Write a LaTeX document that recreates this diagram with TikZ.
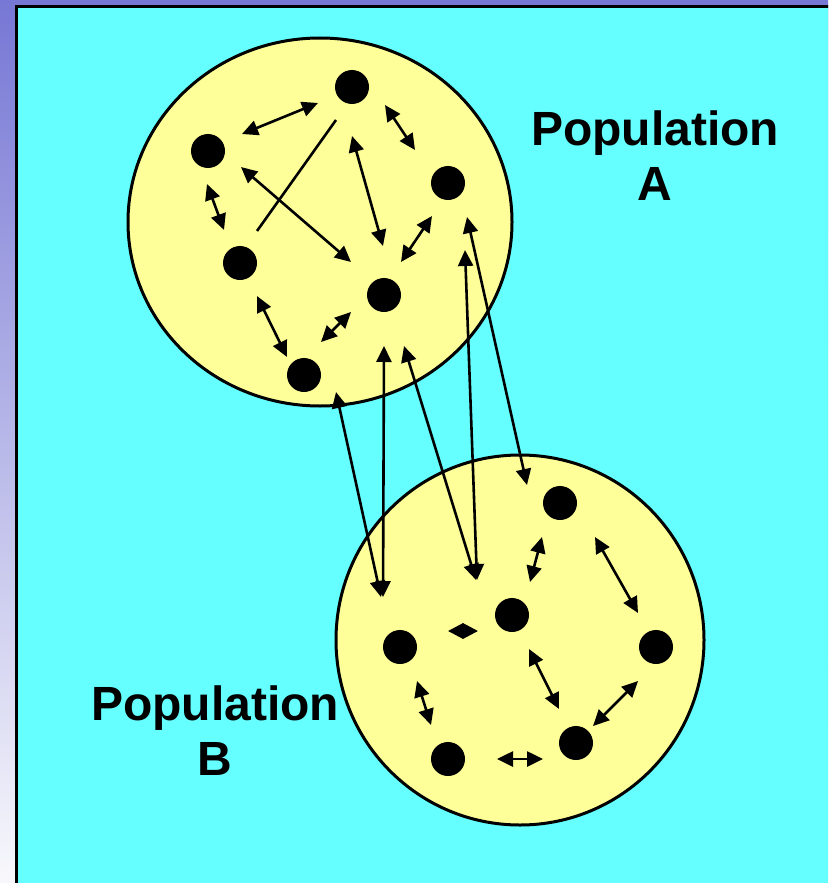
\documentclass[tikz,border=0pt]{standalone}
\usepackage{fontspec}
\setmainfont{Liberation Sans}
\usetikzlibrary{arrows.meta,shapes.geometric}
\definecolor{bgcyan}{RGB}{102,255,255}
\definecolor{popyellow}{RGB}{255,255,153}
\definecolor{topviolet}{RGB}{119,119,213}
\definecolor{botviolet}{RGB}{248,248,252}
\tikzset{
  dot/.style={circle,fill=black,inner sep=0pt,minimum size=34pt},
  popcircle/.style={fill=popyellow,draw=black,line width=3pt},
  tipshape/.tip={Triangle[length=16pt,width=15pt]},
  link/.style={line width=2.6pt,tipshape-tipshape},
  plainlink/.style={line width=2.6pt},
  poplabel/.style={font=\bfseries\fontsize{48}{55}\selectfont,inner sep=0pt,anchor=base}
}
\begin{document}
\begin{tikzpicture}[x=1pt,y=-1pt]
\useasboundingbox (0,0) rectangle (828,883);
\clip (0,0) rectangle (828,883);
\shade[top color=topviolet,bottom color=botviolet] (0,0) rectangle (828,883);
\draw[fill=bgcyan,line width=3pt] (16,6.5) rectangle (850,900);
% population circles
\draw[popcircle] (320,222) ellipse [x radius=192,y radius=184];
\draw[popcircle] (520,640) ellipse [x radius=184,y radius=185];
% population A dots
\node[dot] (aT) at (352,87) {};
\node[dot] (aL) at (208,151) {};
\node[dot] (aR) at (448,183) {};
\node[dot] (aM) at (240,263) {};
\node[dot] (aC) at (384,295) {};
\node[dot] (aB) at (304,375) {};
% population B dots
\node[dot] (bT) at (560,503) {};
\node[dot] (bC) at (512,615) {};
\node[dot] (bL) at (400,647) {};
\node[dot] (bR) at (656,647) {};
\node[dot] (bBL) at (448,759) {};
\node[dot] (bBR) at (576,743) {};
\node[diamond,fill=black,inner sep=0pt,minimum width=30pt,minimum height=16pt,aspect=1.9] (bD) at (463,631) {};
% arrow end coordinates, population A
\coordinate (p1a) at (242,134); \coordinate (p1b) at (318,103);
\coordinate (p2a) at (385,105); \coordinate (p2b) at (415,150);
\coordinate (p3a) at (207,184); \coordinate (p3b) at (224,230);
\coordinate (p4a) at (241,167); \coordinate (p4b) at (351,262);
\coordinate (p5a) at (336,120); \coordinate (p5b) at (257,231);
\coordinate (p6a) at (352,136); \coordinate (p6b) at (383,246);
\coordinate (p7a) at (432,216); \coordinate (p7b) at (401,262);
\coordinate (p8a) at (257,296); \coordinate (p8b) at (287,357);
\coordinate (p9a) at (351,312); \coordinate (p9b) at (321,342);
% between populations
\coordinate (q1a) at (336,392); \coordinate (q1b) at (381,597);
\coordinate (q2a) at (384,346); \coordinate (q2b) at (383,597);
\coordinate (q3a) at (404,346); \coordinate (q3b) at (476,580);
\coordinate (q4a) at (465,250); \coordinate (q4b) at (477,580);
\coordinate (q5a) at (467,217); \coordinate (q5b) at (527,485);
% population B
\coordinate (r1a) at (542,537); \coordinate (r1b) at (530,582);
\coordinate (r2a) at (595,537); \coordinate (r2b) at (638,613);
\coordinate (r3a) at (529,649); \coordinate (r3b) at (559,709);
\coordinate (r4a) at (638,681); \coordinate (r4b) at (593,726);
\coordinate (r5a) at (417,681); \coordinate (r5b) at (431,725);
\coordinate (r6a) at (497,759); \coordinate (r6b) at (543,759);
% connectors
\draw[link] (p1a) -- (p1b);
\draw[link] (p2a) -- (p2b);
\draw[link] (p3a) -- (p3b);
\draw[link] (p4a) -- (p4b);
\draw[plainlink] (p5a) -- (p5b);
\draw[link] (p6a) -- (p6b);
\draw[link] (p7a) -- (p7b);
\draw[link] (p8a) -- (p8b);
\draw[link] (p9a) -- (p9b);
\draw[link] (q1a) -- (q1b);
\draw[link] (q2a) -- (q2b);
\draw[link] (q3a) -- (q3b);
\draw[link] (q4a) -- (q4b);
\draw[link] (q5a) -- (q5b);
\draw[link] (r1a) -- (r1b);
\draw[link] (r2a) -- (r2b);
\draw[link] (r3a) -- (r3b);
\draw[link] (r4a) -- (r4b);
\draw[link] (r5a) -- (r5b);
\draw[link] (r6a) -- (r6b);
% labels
\node[poplabel] (popA1) at (655,145) {Population};
\node[poplabel] (popA2) at (655,200) {A};
\node[poplabel] (popB1) at (215,720) {Population};
\node[poplabel] (popB2) at (215,775) {B};
\end{tikzpicture}
\end{document}
